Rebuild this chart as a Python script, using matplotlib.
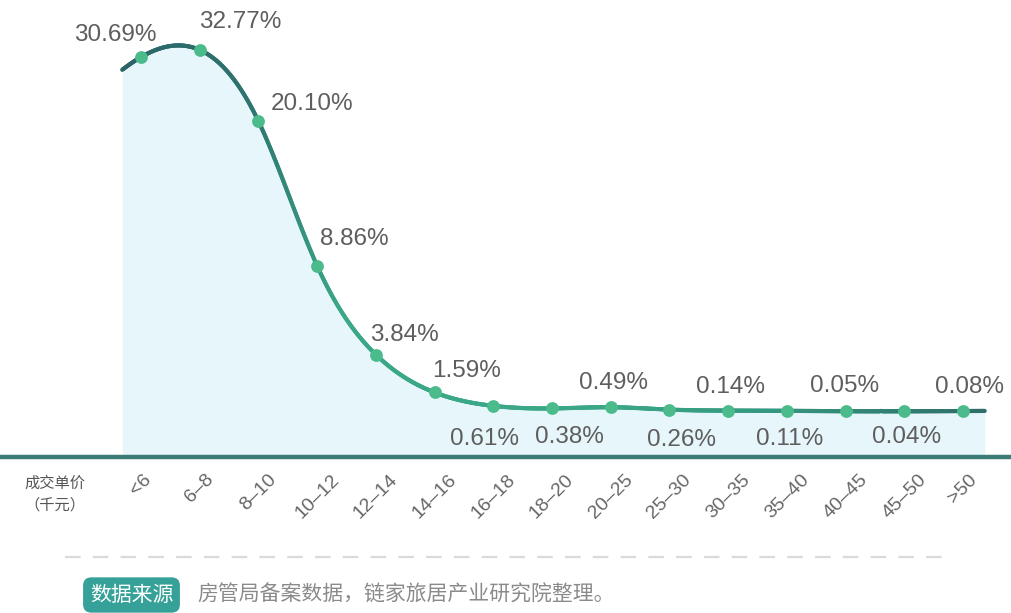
import numpy as np
import matplotlib
matplotlib.use('Agg')
import matplotlib.pyplot as plt
from matplotlib.collections import LineCollection
from matplotlib.colors import LinearSegmentedColormap
from matplotlib.lines import Line2D

# ---------------- data ----------------
categories = ['<6', '6–8', '8–10', '10–12', '12–14', '14–16', '16–18', '18–20',
              '20–25', '25–30', '30–35', '35–40', '40–45', '45–50', '>50']
shares = [30.69, 32.77, 20.10, 8.86, 3.84, 1.59, 0.61, 0.38,
          0.49, 0.26, 0.14, 0.11, 0.05, 0.04, 0.08]
label_texts = ['30.69%', '32.77%', '20.10%', '8.86%', '3.84%', '1.59%', '0.61%', '0.38%',
               '0.49%', '0.26%', '0.14%', '0.11%', '0.05%', '0.04%', '0.08%']
axis_title = '成交单价\n（千元）'
source_tag = '数据来源'
source_text = '房管局备案数据，链家旅居产业研究院整理。'

# label offsets (pixels) relative to each marker
label_offsets = [(-26, 22), (41, 28), (54, 17), (37, 27), (29, 20), (32, 21), (-9, -33),
                 (17, -29), (3, 24), (12, -30), (2, 24), (3, -28), (-1, 25), (2, -26), (7, 24)]

# ---------------- styles ----------------
NUM_FONT = ['Liberation Sans', 'DejaVu Sans']
CJK_FONT = ['Noto Sans CJK SC', 'DejaVu Sans']
TEXT_GRAY = '#5e5e5e'
MARKER_GREEN = '#4cbb8c'
FILL_COLOR = '#e6f6fa'
BASE_COLOR = '#3b7c78'
TAG_COLOR = '#36a198'

# compressive value scale (saturating) for the y axis
C, Q = 16.0, 1.3


def fwd(v):
    v = np.asarray(v, dtype=float)
    return np.sign(v) * (1.0 - np.exp(-(np.abs(v) / C) ** Q))


def inv(u):
    u = np.asarray(u, dtype=float)
    a = np.clip(np.abs(u), 0, 0.999999)
    return np.sign(u) * C * (-np.log1p(-a)) ** (1.0 / Q)


def spline_not_a_knot(y, xq):
    """Cubic spline (not-a-knot) through y at x = 0..n-1, evaluated at xq."""
    y = np.asarray(y, dtype=float)
    n = len(y)
    A = np.zeros((n, n))
    b = np.zeros(n)
    A[0, 0], A[0, 1], A[0, 2] = 1, -2, 1
    A[-1, -3], A[-1, -2], A[-1, -1] = 1, -2, 1
    for i in range(1, n - 1):
        A[i, i - 1], A[i, i], A[i, i + 1] = 1, 4, 1
        b[i] = 6 * (y[i - 1] - 2 * y[i] + y[i + 1])
    M = np.linalg.solve(A, b)
    seg = np.clip(np.floor(xq).astype(int), 0, n - 2)
    t = xq - seg
    return ((1 - t) * y[seg] + t * y[seg + 1]
            + ((1 - t) ** 3 - (1 - t)) * M[seg] / 6
            + (t ** 3 - t) * M[seg + 1] / 6)


W, H = 1011, 613
fig = plt.figure(figsize=(W / 100, H / 100), dpi=100)
fig.patch.set_facecolor('white')

px_per_cat = 822 / 14.0
ax_bottom = 1 - 457 / H
ax_top = 1 - 30 / H
ax = fig.add_axes([0, ax_bottom, 1, ax_top - ax_bottom])
ax.set_yscale('function', functions=(fwd, inv))
ymin, ymax = -3.2, 42.6
ax.set_ylim(ymin, ymax)
ax.set_xlim(-141 / px_per_cat, (W - 141) / px_per_cat)
for s in ax.spines.values():
    s.set_visible(False)
ax.set_yticks([])
ax.patch.set_alpha(0)

x = np.arange(len(shares))
xs = np.linspace(-0.32, 14.37, 900)
u_curve = spline_not_a_knot(fwd(shares), xs)
v_curve = inv(u_curve)

# area fill
ax.fill_between(xs, v_curve, ymin, color=FILL_COLOR, lw=0, zorder=1)

# gradient line
cmap = LinearSegmentedColormap.from_list(
    'teal', [(0.0, '#2b6468'), (0.15, '#2e7470'), (0.25, '#3aa886'),
             (0.55, '#3aa886'), (0.75, '#359880'), (1.0, '#2f6e6a')])
pts = np.column_stack([xs, v_curve]).reshape(-1, 1, 2)
segs = np.concatenate([pts[:-1], pts[1:]], axis=1)
lc = LineCollection(segs, cmap=cmap, linewidths=3.0, capstyle='round', zorder=3)
lc.set_array((xs[:-1] - xs[0]) / (xs[-1] - xs[0]))
lc.set_clim(0, 1)
ax.add_collection(lc)

# markers
ax.scatter(x, shares, s=85, color=MARKER_GREEN, zorder=4, linewidths=0)

# value labels
for xi, v, txt, (dx, dy) in zip(x, shares, label_texts, label_offsets):
    ax.annotate(txt, (xi, v), xytext=(dx, dy), textcoords='offset pixels',
                ha='center', va='center', fontsize=17.5, color=TEXT_GRAY,
                family=NUM_FONT, zorder=6, annotation_clip=False)

# baseline
ax.axhline(ymin, color=BASE_COLOR, lw=3.2, clip_on=False, zorder=5)

# x tick labels
ax.set_xticks(x)
ax.set_xticklabels(categories, rotation=45, ha='center', va='top',
                   fontsize=14, color='#666666', family=NUM_FONT)
ax.tick_params(axis='x', length=0, pad=10)

# axis title at left
fig.text(55 / W, 1 - 494 / H, axis_title, ha='center', va='center',
         fontsize=11, color='#555555', family=CJK_FONT, linespacing=1.4)

# dashed separator
fig.add_artist(Line2D([65 / W, 950 / W], [1 - 557 / H, 1 - 557 / H],
                      transform=fig.transFigure, color='#dadada', lw=1.6,
                      dashes=(7, 5.5)))

# source
fig.text(131.5 / W, 1 - 595 / H, source_tag, ha='center', va='center',
         fontsize=15, color='white', family=CJK_FONT,
         bbox=dict(boxstyle='round,pad=0.32,rounding_size=0.4', fc=TAG_COLOR, ec='none'))
fig.text(197 / W, 1 - 595 / H, source_text, ha='left', va='center',
         fontsize=15, color='#8a8a8a', family=CJK_FONT)

fig.savefig('out.png', dpi=100)
